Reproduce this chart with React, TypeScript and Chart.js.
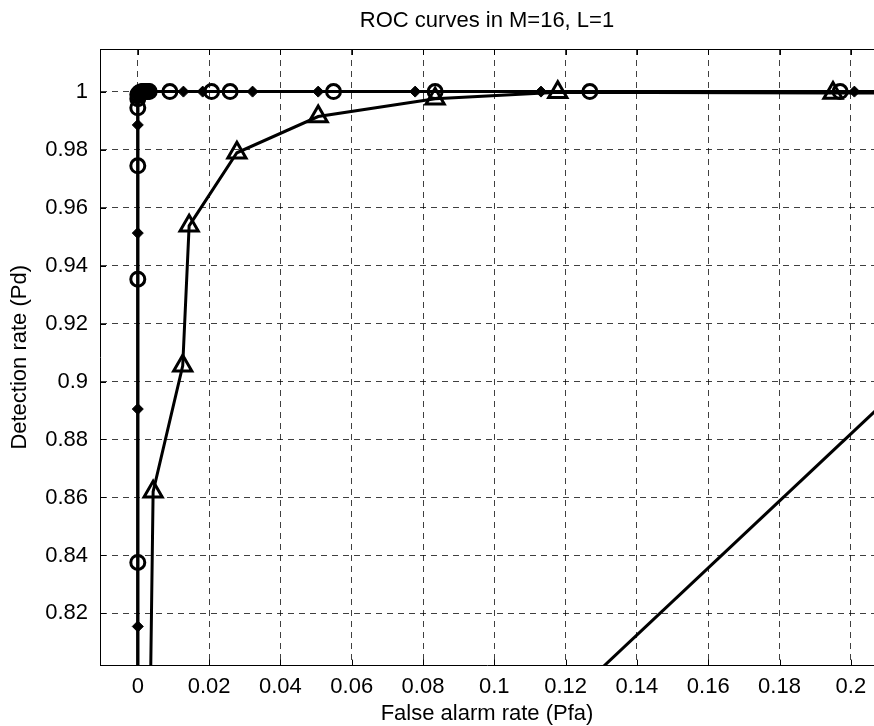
import { useEffect, useRef } from 'react';
import { Chart, registerables } from 'chart.js';

Chart.register(...registerables);

// ---- data ----
const circleX = [0, 0, 0, 0, 0, 0, 0, 0.0004, 0.0008, 0.0012, 0.0016, 0.002, 0.0024, 0.0028, 0.0032, 0.009, 0.0207, 0.0259, 0.0549, 0.0834, 0.1268, 0.197, 1];
const circleY = [0.75, 0.8376, 0.9353, 0.9744, 0.9944, 0.9975, 0.999, 0.9996, 0.9998, 1, 1, 1, 1, 1, 1, 1, 1, 1, 1, 1, 1, 1, 1];

const diamondX = [0, 0, 0, 0, 0, 0, 0.0005, 0.001, 0.0018, 0.0025, 0.0032, 0.004, 0.0128, 0.0182, 0.0322, 0.0506, 0.0778, 0.1131, 0.201, 1];
const diamondY = [0.75, 0.8155, 0.8905, 0.9512, 0.9885, 0.997, 0.999, 1, 1, 1, 1, 1, 1, 1, 1, 1, 1, 1, 1, 1];

const triangleX = [0.0034, 0.0043, 0.0126, 0.0144, 0.0278, 0.0506, 0.0834, 0.1178, 0.195, 1];
const triangleY = [0.78, 0.862, 0.9054, 0.9537, 0.9789, 0.9914, 0.9975, 0.9998, 0.9995, 1];

const straightX = [0.13, 0.21];
const straightY = [0.801, 0.8935];

const xTickValues = [0, 0.02, 0.04, 0.06, 0.08, 0.1, 0.12, 0.14, 0.16, 0.18, 0.2];
const xTickLabels = ['0', '0.02', '0.04', '0.06', '0.08', '0.1', '0.12', '0.14', '0.16', '0.18', '0.2'];
const yTickValues = [0.82, 0.84, 0.86, 0.88, 0.9, 0.92, 0.94, 0.96, 0.98, 1];
const yTickLabels = ['0.82', '0.84', '0.86', '0.88', '0.9', '0.92', '0.94', '0.96', '0.98', '1'];

const titleText = 'ROC curves in M=16, L=1';
const xTitle = 'False alarm rate (Pfa)';
const yTitle = 'Detection rate (Pd)';

const FONT = "'Liberation Sans', Arial, Helvetica, sans-serif";
const FS = 22;

const pts = (xs: number[], ys: number[]) => xs.map((x, i) => ({ x, y: ys[i] }));

const framePlugin = {
  id: 'frame',
  beforeDatasetsDraw(chart: any) {
    const { ctx, chartArea: a, scales } = chart;
    ctx.save();
    ctx.strokeStyle = '#000';
    ctx.lineWidth = 1;
    ctx.beginPath();
    ctx.moveTo(a.left, a.top + 0.5);
    ctx.lineTo(a.right, a.top + 0.5);
    const tl = 6;
    xTickValues.forEach((v) => {
      const px = Math.round(scales.x.getPixelForValue(v)) + 0.5;
      ctx.moveTo(px, a.bottom);
      ctx.lineTo(px, a.bottom - tl);
      ctx.moveTo(px, a.top);
      ctx.lineTo(px, a.top + tl);
    });
    yTickValues.forEach((v) => {
      const py = Math.round(scales.y.getPixelForValue(v)) + 0.5;
      ctx.moveTo(a.left, py);
      ctx.lineTo(a.left + tl, py);
    });
    ctx.stroke();
    ctx.restore();
  },
};

export default function App() {
  const ref = useRef<HTMLCanvasElement | null>(null);

  useEffect(() => {
    if (!ref.current) return;
    Chart.defaults.font.family = FONT;
    Chart.defaults.color = '#000';
    const gridOpts = {
      color: 'rgba(0,0,0,0.75)',
      lineWidth: 1,
      drawTicks: false,
    };
    const chart = new Chart(ref.current, {
      type: 'scatter',
      data: {
        datasets: [
          {
            data: pts(straightX, straightY),
            showLine: true,
            borderColor: '#000',
            borderWidth: 3,
            pointRadius: 0,
          },
          {
            data: pts(triangleX, triangleY),
            showLine: true,
            borderColor: '#000',
            borderWidth: 3,
            pointStyle: 'triangle',
            pointRadius: 10.5,
            pointBorderWidth: 3,
            pointBackgroundColor: 'rgba(0,0,0,0)',
            pointBorderColor: '#000',
          },
          {
            data: pts(circleX, circleY),
            showLine: true,
            borderColor: '#000',
            borderWidth: 3,
            pointStyle: 'circle',
            pointRadius: 7,
            pointBorderWidth: 3,
            pointBackgroundColor: 'rgba(0,0,0,0)',
            pointBorderColor: '#000',
          },
          {
            data: pts(diamondX, diamondY),
            showLine: true,
            borderColor: '#000',
            borderWidth: 3,
            pointStyle: 'rectRot',
            pointRadius: 5.5,
            pointBorderWidth: 1,
            pointBackgroundColor: '#000',
            pointBorderColor: '#000',
          },
        ],
      },
      options: {
        animation: false,
        responsive: false,
        devicePixelRatio: 1,
        layout: { autoPadding: false, padding: { left: 0, right: 0, top: 0, bottom: 0 } },
        plugins: {
          legend: { display: false },
          tooltip: { enabled: false },
          title: {
            display: true,
            text: titleText,
            fullSize: false,
            color: '#000',
            font: { size: FS, weight: 'normal', family: FONT },
            padding: { top: 7.6, bottom: 15 },
          },
        },
        scales: {
          x: {
            type: 'linear',
            min: -0.0106,
            max: 0.2065,
            afterBuildTicks: (s: any) => {
              s.ticks = xTickValues.map((v) => ({ value: v }));
            },
            afterFit: (s: any) => {
              s.height = 60.4;
              s.paddingLeft = 0;
              s.paddingRight = 0;
            },
            ticks: {
              padding: 8,
              autoSkip: false,
              maxRotation: 0,
              font: { size: FS, family: FONT },
              color: '#000',
              callback: (v: any) => {
                const i = xTickValues.findIndex((t) => Math.abs(t - v) < 1e-9);
                return i >= 0 ? xTickLabels[i] : '';
              },
            },
            grid: gridOpts,
            border: { display: true, color: '#000', width: 1, dash: [6, 5] },
            title: {
              display: true,
              text: xTitle,
              color: '#000',
              font: { size: FS, family: FONT },
              padding: { top: 0, bottom: -1 },
            },
          },
          y: {
            type: 'linear',
            min: 0.802,
            max: 1.0147,
            afterBuildTicks: (s: any) => {
              s.ticks = yTickValues.map((v) => ({ value: v }));
            },
            afterFit: (s: any) => {
              s.width = 100;
              s.paddingTop = 0;
              s.paddingBottom = 0;
            },
            ticks: {
              padding: 12,
              autoSkip: false,
              font: { size: FS, family: FONT },
              color: '#000',
              callback: (v: any) => {
                const i = yTickValues.findIndex((t) => Math.abs(t - v) < 1e-9);
                return i >= 0 ? yTickLabels[i] : '';
              },
            },
            grid: gridOpts,
            border: { display: true, color: '#000', width: 1, dash: [6, 5] },
            title: {
              display: true,
              text: yTitle,
              color: '#000',
              font: { size: FS, family: FONT },
              padding: { top: 7, bottom: 0 },
            },
          },
        },
      },
      plugins: [framePlugin],
    } as any);
    return () => chart.destroy();
  }, []);

  return (
    <div style={{ position: 'absolute', left: 0, top: 0, width: 874, height: 726, background: '#fff' }}>
      <canvas ref={ref} width={874} height={726} style={{ display: 'block' }} />
    </div>
  );
}
